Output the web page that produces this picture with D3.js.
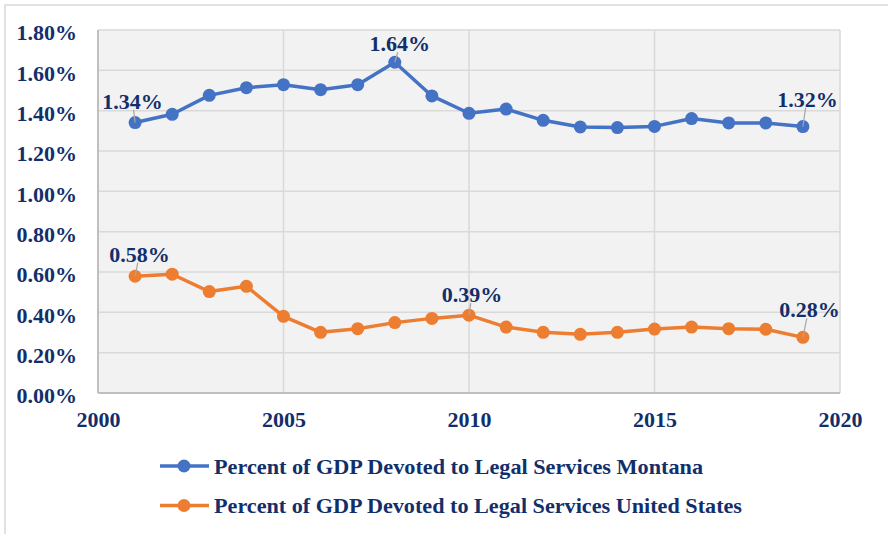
<!DOCTYPE html>
<html>
<head>
<meta charset="utf-8">
<script src="https://cdn.jsdelivr.net/npm/d3@7"></script>
<style>
  body { margin: 0; background: #fff; }
  svg text { font-family: "Liberation Serif", "Times New Roman", serif; font-weight: bold; fill: #132f6b; }
</style>
</head>
<body>
<div id="chart"></div>
<script>
const years = [2001, 2002, 2003, 2004, 2005, 2006, 2007, 2008, 2009, 2010,
               2011, 2012, 2013, 2014, 2015, 2016, 2017, 2018, 2019];
const montana = [1.341, 1.382, 1.476, 1.514, 1.529, 1.504, 1.529, 1.640, 1.473, 1.387,
                 1.408, 1.352, 1.319, 1.316, 1.322, 1.361, 1.339, 1.339, 1.321];
const unitedStates = [0.579, 0.589, 0.503, 0.529, 0.380, 0.301, 0.319, 0.349, 0.370, 0.386,
                      0.327, 0.301, 0.291, 0.301, 0.317, 0.327, 0.319, 0.316, 0.276];
const seriesNames = ['Percent of GDP Devoted to Legal Services Montana',
                     'Percent of GDP Devoted to Legal Services United States'];
const xTicks = [2000, 2005, 2010, 2015, 2020];
const yTicks = [0, 0.2, 0.4, 0.6, 0.8, 1.0, 1.2, 1.4, 1.6, 1.8];
// which points carry a data label: [series index, year]
const labelled = [[0, 2001], [0, 2008], [0, 2019], [1, 2001], [1, 2010], [1, 2019]];

const colors = ['#4472c4', '#ed7d31'];
const W = 888, H = 534;
const margin = { top: 30, right: 48, bottom: 141, left: 98 };
const width = W - margin.left - margin.right;
const height = H - margin.top - margin.bottom;
const fontSize = 22;

const svg = d3.select('#chart').append('svg')
  .attr('width', W).attr('height', H);

// outer chart border
svg.append('rect')
  .attr('x', 5).attr('y', 5).attr('width', W + 10).attr('height', H + 10)
  .attr('fill', 'none').attr('stroke', '#d9d9d9').attr('stroke-width', 1.5);

const g = svg.append('g').attr('transform', `translate(${margin.left},${margin.top})`);

const x = d3.scaleLinear().domain([2000, 2020]).range([0, width]);
const y = d3.scaleLinear().domain([0, 1.8]).range([height, 0]);

g.append('rect').attr('width', width).attr('height', height).attr('fill', '#f2f2f2');

// grid
g.append('g').selectAll('line').data(yTicks).join('line')
  .attr('x1', 0).attr('x2', width)
  .attr('y1', d => y(d)).attr('y2', d => y(d))
  .attr('stroke', '#d9d9d9').attr('stroke-width', 1.5);
g.append('g').selectAll('line').data(xTicks).join('line')
  .attr('x1', d => x(d)).attr('x2', d => x(d))
  .attr('y1', 0).attr('y2', height)
  .attr('stroke', '#d9d9d9').attr('stroke-width', 1.5);

// axes lines (left + bottom)
g.append('line').attr('x1', 0).attr('x2', 0).attr('y1', 0).attr('y2', height)
  .attr('stroke', '#bfbfbf').attr('stroke-width', 2);
g.append('line').attr('x1', 0).attr('x2', width).attr('y1', height).attr('y2', height)
  .attr('stroke', '#bfbfbf').attr('stroke-width', 2);

// axis labels
const yAxis = g.append('g')
  .call(d3.axisLeft(y).tickValues(yTicks).tickFormat(d => d.toFixed(2) + '%').tickSize(0).tickPadding(21));
yAxis.select('.domain').remove();
yAxis.selectAll('text').attr('font-size', fontSize).attr('fill', '#132f6b')
  .style('font-family', '"Liberation Serif", serif').attr('dy', '0.45em');

const xAxis = g.append('g').attr('transform', `translate(0,${height})`)
  .call(d3.axisBottom(x).tickValues(xTicks).tickFormat(d3.format('d')).tickSize(0).tickPadding(18));
xAxis.select('.domain').remove();
xAxis.selectAll('text').attr('font-size', fontSize).attr('fill', '#132f6b')
  .style('font-family', '"Liberation Serif", serif');

// series
const allSeries = [montana, unitedStates];
const line = d3.line().x((d, i) => x(years[i])).y(d => y(d));

allSeries.forEach((vals, s) => {
  g.append('path').datum(vals)
    .attr('d', line)
    .attr('fill', 'none').attr('stroke', colors[s]).attr('stroke-width', 3.5)
    .attr('stroke-linejoin', 'round');
  g.append('g').selectAll('circle').data(vals).join('circle')
    .attr('cx', (d, i) => x(years[i])).attr('cy', d => y(d))
    .attr('r', 6.5).attr('fill', colors[s]);
});

// data labels with leader lines
const labelOffsets = [[-2.5, -14], [5, -11], [4.5, -20], [4.5, -14.5], [3, -13], [6.5, -20]];
labelled.forEach(([s, yr], k) => {
  const i = years.indexOf(yr);
  const v = allSeries[s][i];
  const px = x(yr), py = y(v);
  const [dx, dy] = labelOffsets[k];
  g.append('line')
    .attr('x1', px).attr('y1', py)
    .attr('x2', px + dx * 0.6).attr('y2', py + dy + 1)
    .attr('stroke', '#a6a6a6').attr('stroke-width', 1.2);
  g.append('text')
    .attr('x', px + dx).attr('y', py + dy)
    .attr('text-anchor', 'middle').attr('font-size', fontSize)
    .text(v.toFixed(2) + '%');
});

// legend
const legend = svg.append('g').attr('transform', 'translate(160,466)');
seriesNames.forEach((name, s) => {
  const row = legend.append('g').attr('transform', `translate(0,${s * 39.5})`);
  row.append('line').attr('x1', 0).attr('x2', 49).attr('y1', 0).attr('y2', 0)
    .attr('stroke', colors[s]).attr('stroke-width', 3.5);
  row.append('circle').attr('cx', 24).attr('cy', 0).attr('r', 6.5).attr('fill', colors[s]);
  row.append('text').attr('x', 54).attr('y', 7.5).attr('font-size', fontSize)
    .attr('textLength', s === 0 ? 489 : 528).attr('lengthAdjust', 'spacingAndGlyphs')
    .text(name);
});
</script>
</body>
</html>
